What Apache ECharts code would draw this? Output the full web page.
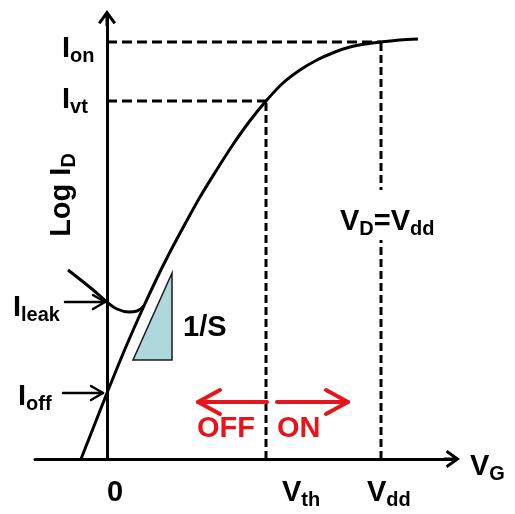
<!DOCTYPE html>
<html>
<head>
<meta charset="utf-8">
<script src="https://cdn.jsdelivr.net/npm/echarts@6/dist/echarts.min.js"></script>
<style>
  html, body { margin: 0; padding: 0; background: #fff; }
  #chart { width: 515px; height: 514px; }
</style>
</head>
<body>
<div id="chart"></div>
<script>
// MOSFET transfer characteristic: gate voltage vs. log drain current (arbitrary units)
const V_TH = 15.9;
const V_DD = 27.4;
const I_ON = 41.7;
const I_VT = 35.8;
const I_LEAK = 15.7;
const I_OFF = 6.6;

// main transfer curve
const curveV    = [-2.6, -1.3, 0,   1.8,  3.6,  5.0,  6.3,  7.8,  9.3,  10.9, 12.5, 14.2, 15.9, 17.6, 19.3, 21.0, 22.8, 24.3, 25.8, 27.4, 29.3, 31.1];
const curveLogI = [0,    3.3,  6.6, 11.0, 15.1, 18.1, 20.7, 23.5, 26.2, 28.8, 31.3, 33.7, 35.8, 37.6, 38.9, 39.9, 40.7, 41.2, 41.5, 41.7, 41.9, 42.0];

// gate-leakage branch joining the curve
const leakV    = [-3.9, -1.5, 0,    1.0,  2.2,  3.0,  3.7];
const leakLogI = [18.9, 17.0, 15.7, 15.0, 14.7, 14.8, 15.3];

// subthreshold-slope triangle
const slopeV    = [2.6, 6.5, 6.5];
const slopeLogI = [9.9, 9.9, 18.6];

// arrows as [fromV, fromLogI, toV, toLogI]
const offArrow  = [16.0, 5.7, 9.1, 5.7];
const onArrow   = [17.0, 5.7, 24.1, 5.7];
const leakArrow = [-4.2, I_LEAK, -0.2, I_LEAK];
const ioffArrow = [-4.4, I_OFF, -0.4, I_OFF];

const FONT = '"Liberation Sans", Arial, sans-serif';
const RED = '#e8141b';
const RICH = {
  m: { fontFamily: FONT, fontWeight: 'bold', fontSize: 29, lineHeight: 29, verticalAlign: 'top', color: '#000' },
  s: { fontFamily: FONT, fontWeight: 'bold', fontSize: 20, lineHeight: 20, padding: [12, 0, 0, 0], verticalAlign: 'top', color: '#000' },
  t: { fontFamily: FONT, fontWeight: 'bold', fontSize: 29, lineHeight: 29, verticalAlign: 'top', color: '#000' },
  r: { fontFamily: FONT, fontWeight: 'bold', fontSize: 29, lineHeight: 29, verticalAlign: 'top', color: RED }
};

// chevron arrow head pointing up, with a short stem
const AXIS_HEAD = 'path://M9,0L18,12.6L15.6,14.3L10.5,7.2L10.5,16L7.5,16L7.5,7.2L2.4,14.3L0,12.6Z';

function zip(xs, ys) { return xs.map((x, i) => [x, ys[i]]); }

function arrowRenderer(headLen, headHalf, width, color) {
  return function (params, api) {
    const a = api.coord([api.value(0), api.value(1)]);
    const b = api.coord([api.value(2), api.value(3)]);
    const ang = Math.atan2(b[1] - a[1], b[0] - a[0]);
    const bx = b[0] - headLen * Math.cos(ang), by = b[1] - headLen * Math.sin(ang);
    const nx = -Math.sin(ang) * headHalf, ny = Math.cos(ang) * headHalf;
    const st = { stroke: color, lineWidth: width, fill: null, lineJoin: 'round', lineCap: 'round' };
    return {
      type: 'group',
      children: [
        { type: 'polyline', shape: { points: [a, b] }, style: st },
        { type: 'polyline', shape: { points: [[bx + nx, by + ny], b, [bx - nx, by - ny]] }, style: st }
      ]
    };
  };
}

function dashed(points, dash) {
  return {
    type: 'line', data: points, symbol: 'none', silent: true, z: 1,
    lineStyle: { color: '#000', width: 3, type: dash }
  };
}

function note(value, text, pos, extra) {
  return {
    value: value,
    label: Object.assign({ show: true, formatter: text, position: pos, opacity: 1 }, extra || {})
  };
}

const chart = echarts.init(document.getElementById('chart'), null, { renderer: 'canvas' });

chart.setOption({
  animation: false,
  backgroundColor: '#fff',
  grid: { left: 35, right: 63, top: 18, bottom: 55, containLabel: false, outerBoundsMode: 'none' },
  xAxis: {
    type: 'value', min: -7.2, max: 34.5,
    name: '{m|V}{s|G}', nameLocation: 'end', nameGap: 18,
    nameTextStyle: { rich: RICH, padding: [15, 0, 0, 0] },
    axisLine: { onZero: true, lineStyle: { color: '#000', width: 3 }, symbol: ['none', AXIS_HEAD], symbolSize: [18, 16] },
    axisTick: { show: false }, axisLabel: { show: false }, splitLine: { show: false }
  },
  yAxis: {
    type: 'value', min: 0, max: 44.1,
    name: '{m|Log I}{s|D}', nameLocation: 'middle', nameRotate: 90, nameGap: -41,
    nameTextStyle: { rich: RICH, padding: [0, 0, 0, 87] },
    axisLine: { onZero: true, lineStyle: { color: '#000', width: 3 }, symbol: ['none', AXIS_HEAD], symbolSize: [18, 16] },
    axisTick: { show: false }, axisLabel: { show: false }, splitLine: { show: false }
  },
  series: [
    dashed([[0, I_ON], [V_DD, I_ON]], [10, 5]),
    dashed([[0, I_VT], [V_TH, I_VT]], [10, 5]),
    dashed([[V_TH, 0], [V_TH, I_VT]], [8, 4]),
    dashed([[V_DD, 0], [V_DD, I_ON]], [8, 4]),
    {
      type: 'custom', name: 'slope', z: 2, silent: true,
      data: [0],
      renderItem: function (params, api) {
        return {
          type: 'polygon',
          shape: { points: zip(slopeV, slopeLogI).map(p => api.coord(p)) },
          style: { fill: '#aed8dc', stroke: '#1a1a1a', lineWidth: 1.5 }
        };
      }
    },
    {
      type: 'line', name: 'leak', data: zip(leakV, leakLogI), smooth: 0.4, symbol: 'none', z: 3,
      lineStyle: { color: '#000', width: 3 }
    },
    {
      type: 'line', name: 'I-V', data: zip(curveV, curveLogI), smooth: 0.3, symbol: 'none', z: 3,
      lineStyle: { color: '#000', width: 3 }
    },
    {
      type: 'custom', name: 'pointers', z: 4, silent: true,
      data: [leakArrow, ioffArrow],
      renderItem: arrowRenderer(12, 7, 2.5, '#000')
    },
    {
      type: 'custom', name: 'regions', z: 4, silent: true,
      data: [offArrow, onArrow],
      renderItem: arrowRenderer(22, 12, 4, RED)
    },
    {
      type: 'scatter', name: 'notes', symbolSize: 0, silent: true, z: 5,
      itemStyle: { opacity: 1 },
      emphasis: { disabled: true },
      label: { show: true, rich: RICH, color: '#000', opacity: 1 },
      data: [
        note([0, I_ON], '{m|I}{s|on}', [-45, -7.5]),
        note([0, I_VT], '{m|I}{s|vt}', [-45, -15.5]),
        note([0, I_LEAK], '{m|I}{s|leak}', [-94, -8.5]),
        note([0, I_OFF], '{m|I}{s|off}', [-89, -10.5]),
        note([0, 0], '{m|0}', [0, 19.5]),
        note([V_TH, 0], '{m|V}{s|th}', [16, 19.5]),
        note([V_DD, 0], '{m|V}{s|dd}', [-14, 19.5]),
        note([V_DD, I_ON], '{m|V}{s|D}{m|=V}{s|dd}', [-43, 148], { backgroundColor: '#fff', padding: [17.5, 2, 3.5, 2] }),
        note([slopeV[2], slopeLogI[1]], '{t|1/S}', [11, -47]),
        note([offArrow[2], offArrow[1]], '{r|OFF}', [-1, 12]),
        note([onArrow[0], onArrow[1]], '{r|ON}', [0, 12])
      ]
    }
  ]
});
</script>
</body>
</html>
